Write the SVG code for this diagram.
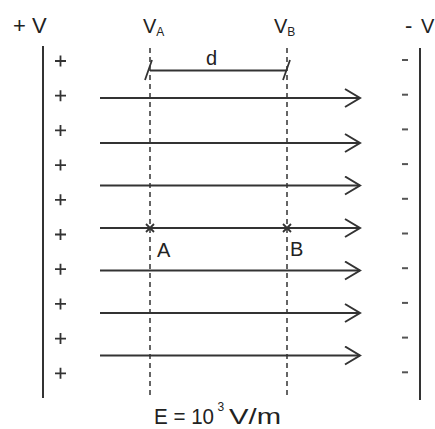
<svg xmlns="http://www.w3.org/2000/svg" width="435" height="429" viewBox="0 0 435 429">
<defs>
<style>
.t{font-family:"Liberation Sans",Arial,sans-serif;fill:#222}
.plate{stroke:#333;stroke-width:2;fill:none}
.arr{stroke:#333;stroke-width:2;fill:none}
.dash{stroke:#333;stroke-width:1.5;stroke-dasharray:5 4;fill:none}
.sign{stroke:#333;stroke-width:1.8;fill:none}
.minus{stroke:#555;stroke-width:2;fill:none}
</style>
<marker id="head" viewBox="0 0 20 20" refX="16" refY="10" markerWidth="20" markerHeight="20" markerUnits="userSpaceOnUse" orient="auto">
<path d="M1,1 L16,10 L1,19" fill="none" stroke="#333" stroke-width="2"/>
</marker>
</defs>
<rect width="435" height="429" fill="#fff"/>

<g id="plate-positive">
<line class="plate" x1="43" y1="46" x2="43" y2="398"/>
<text class="t" x="13" y="33" font-size="22">+ V</text>
<g class="sign">
<path d="M55,61h11M60.5,55.5v11"/>
<path d="M55,95.7h11M60.5,90.2v11"/>
<path d="M55,130.4h11M60.5,124.9v11"/>
<path d="M55,165.1h11M60.5,159.6v11"/>
<path d="M55,199.8h11M60.5,194.3v11"/>
<path d="M55,234.5h11M60.5,229v11"/>
<path d="M55,269.2h11M60.5,263.7v11"/>
<path d="M55,303.9h11M60.5,298.4v11"/>
<path d="M55,338.6h11M60.5,333.1v11"/>
<path d="M55,373.3h11M60.5,367.8v11"/>
</g>
</g>

<g id="plate-negative">
<line class="plate" x1="420" y1="48" x2="420" y2="400"/>
<text class="t" x="405" y="33" font-size="22">-</text>
<text class="t" x="421" y="33" font-size="20">V</text>
<g class="minus">
<path d="M402,60h6"/>
<path d="M402,94.7h6"/>
<path d="M402,129.4h6"/>
<path d="M402,164.1h6"/>
<path d="M402,198.8h6"/>
<path d="M402,233.5h6"/>
<path d="M402,268.2h6"/>
<path d="M402,302.9h6"/>
<path d="M402,337.6h6"/>
<path d="M402,372.3h6"/>
</g>
</g>

<g id="VA">
<line class="dash" x1="150" y1="48" x2="150" y2="395"/>
<text class="t" x="143" y="33" font-size="20">V<tspan font-size="12" dy="3">A</tspan></text>
</g>

<g id="VB">
<line class="dash" x1="287" y1="48" x2="287" y2="395"/>
<text class="t" x="274" y="33" font-size="20">V<tspan font-size="12" dy="3">B</tspan></text>
</g>

<g id="point-A">
<path class="sign" d="M146,224l8,8M154,224l-8,8"/>
<text class="t" x="157" y="257" font-size="20">A</text>
</g>

<g id="point-B">
<path class="sign" d="M283,224l8,8M291,224l-8,8"/>
<text class="t" x="290" y="256" font-size="20">B</text>
</g>

<g id="distance-d">
<line class="arr" x1="150" y1="70.5" x2="287" y2="70.5"/>
<path class="sign" d="M145,80L152,60M283,80L290,60"/>
<text class="t" x="206" y="65" font-size="20">d</text>
</g>

<g id="connectors">
<line class="arr" x1="100" y1="98" x2="360" y2="98" marker-end="url(#head)"/>
<line class="arr" x1="100" y1="143" x2="360" y2="143" marker-end="url(#head)"/>
<line class="arr" x1="100" y1="185.5" x2="360" y2="185.5" marker-end="url(#head)"/>
<line class="arr" x1="100" y1="228" x2="360" y2="228" marker-end="url(#head)"/>
<line class="arr" x1="100" y1="270.5" x2="360" y2="270.5" marker-end="url(#head)"/>
<line class="arr" x1="100" y1="313" x2="360" y2="313" marker-end="url(#head)"/>
<line class="arr" x1="100" y1="355.5" x2="360" y2="355.5" marker-end="url(#head)"/>
</g>

<g id="field-label">
<text class="t" font-size="22" y="424"><tspan x="154" textLength="60" lengthAdjust="spacingAndGlyphs">E = 10</tspan><tspan x="217.5" y="411" font-size="12">3</tspan><tspan x="229" y="424" textLength="52" lengthAdjust="spacingAndGlyphs">V/m</tspan></text>
</g>
</svg>
